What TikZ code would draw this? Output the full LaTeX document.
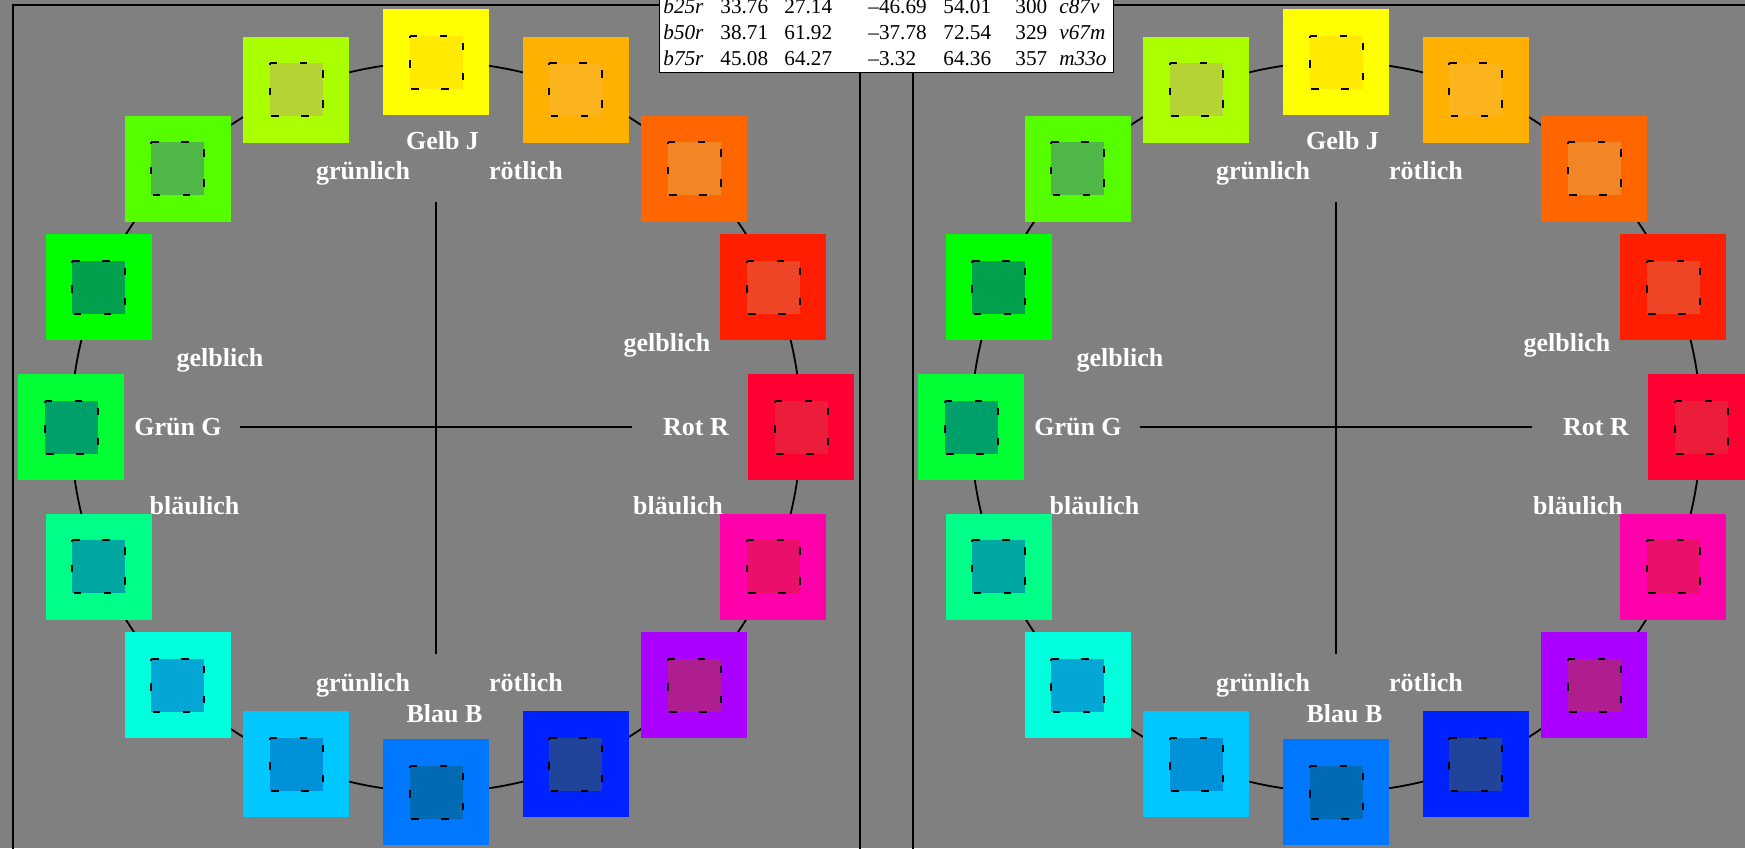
\documentclass[tikz,border=0pt]{standalone}
\usepackage{fontspec}
\setmainfont{Liberation Serif}
\definecolor{bg}{HTML}{808080}
\definecolor{o0}{HTML}{FFFF00}\definecolor{i0}{HTML}{FFEA00}
\definecolor{o1}{HTML}{FFB000}\definecolor{i1}{HTML}{FBB41E}
\definecolor{o2}{HTML}{FF6600}\definecolor{i2}{HTML}{F28627}
\definecolor{o3}{HTML}{FF1E00}\definecolor{i3}{HTML}{EE4526}
\definecolor{o4}{HTML}{FF0033}\definecolor{i4}{HTML}{EC1C3B}
\definecolor{o5}{HTML}{FF00AA}\definecolor{i5}{HTML}{EA0F6B}
\definecolor{o6}{HTML}{AA00FF}\definecolor{i6}{HTML}{AE1E8F}
\definecolor{o7}{HTML}{0022FF}\definecolor{i7}{HTML}{20449A}
\definecolor{o8}{HTML}{0077FF}\definecolor{i8}{HTML}{006AB4}
\definecolor{o9}{HTML}{00C8FF}\definecolor{i9}{HTML}{0092D8}
\definecolor{o10}{HTML}{00FFDD}\definecolor{i10}{HTML}{04A6D5}
\definecolor{o11}{HTML}{00FF88}\definecolor{i11}{HTML}{00A6A0}
\definecolor{o12}{HTML}{00FF33}\definecolor{i12}{HTML}{00A06B}
\definecolor{o13}{HTML}{00FF00}\definecolor{i13}{HTML}{00A04E}
\definecolor{o14}{HTML}{55FF00}\definecolor{i14}{HTML}{4FB748}
\definecolor{o15}{HTML}{AAFF00}\definecolor{i15}{HTML}{B5D334}
\begin{document}
\begin{tikzpicture}[x=0.5pt,y=-0.5pt,
  lab/.style={text=white,font=\fontsize{13}{15}\selectfont\bfseries,inner sep=0pt,anchor=base},
  outsq/.style={minimum size=53pt,inner sep=0pt,outer sep=0pt,draw=none},
  insq/.style={minimum size=26.5pt,inner sep=0pt,outer sep=0pt,draw=none},
  dashbox/.style={draw=black,line width=1pt,dash pattern=on 3.75pt off 11.25pt},
  axis/.style={line width=0.9pt},
  tab/.style={font=\fontsize{10.6}{12}\selectfont,inner sep=0pt,anchor=base west},
  tabi/.style={font=\fontsize{10.6}{12}\selectfont\itshape,inner sep=0pt,anchor=base west}]
\useasboundingbox (0,0) rectangle (1745,848);
\clip (0,0) rectangle (1745,848);
\fill[bg] (0,0) rectangle (1745,848);
% panel frames
\draw[axis] (13,5) rectangle (860,900);
\draw[axis] (913,5) rectangle (1800,900);
\foreach \ox/\p in {0/L,900/R}{
  \coordinate (\p c) at (436+\ox,427);
  \draw[axis] (\p c) circle[radius=365];
  \coordinate (\p top) at (436+\ox,202);
  \coordinate (\p bot) at (436+\ox,654);
  \coordinate (\p lft) at (240+\ox,427);
  \coordinate (\p rgt) at (632+\ox,427);
  \draw[axis] (\p top) -- (\p bot);
  \draw[axis] (\p lft) -- (\p rgt);
  \foreach \k in {0,...,15}{
    \pgfmathsetmacro{\ang}{-90+22.5*\k}
    \node[outsq,fill=o\k] (\p o\k) at ({436+\ox+365*cos(\ang)},{427+365*sin(\ang)}) {};
    \node[insq,fill=i\k] (\p i\k) at (\p o\k.center) {};
    \draw[dashbox] (\p i\k.north west) -- (\p i\k.north east) -- (\p i\k.south east) -- (\p i\k.south west) -- cycle;
  }
  \node[lab] (\p gelb) at (442.5+\ox,149.3) {Gelb J};
  \node[lab] (\p gr1) at (363+\ox,179) {grünlich};
  \node[lab] (\p ro1) at (526+\ox,179) {rötlich};
  \node[lab] (\p ge1) at (220+\ox,366) {gelblich};
  \node[lab] (\p ge2) at (667+\ox,351) {gelblich};
  \node[lab] (\p gruen) at (178+\ox,435) {Grün G};
  \node[lab] (\p rot) at (696+\ox,435) {Rot R};
  \node[lab] (\p bl1) at (194.5+\ox,514) {bläulich};
  \node[lab] (\p bl2) at (678+\ox,514) {bläulich};
  \node[lab] (\p gr2) at (363+\ox,691) {grünlich};
  \node[lab] (\p ro2) at (526+\ox,691) {rötlich};
  \node[lab] (\p blau) at (444.5+\ox,722.7) {Blau B};
}
% table
\draw[fill=white,line width=0.5pt] (659,-60) rectangle (1113,72.7);
\foreach \r/\y/\a/\b/\c/\d/\e/\f/\g in {
  1/13.3/b25r/33.76/27.14/–46.69/54.01/300/c87v,
  2/39.5/b50r/38.71/61.92/–37.78/72.54/329/v67m,
  3/65.7/b75r/45.08/64.27/–3.32/64.36/357/m33o}{
  \node[tabi] (t\r a) at (663,\y) {\a};
  \node[tab] (t\r b) at (720,\y) {\b};
  \node[tab] (t\r c) at (784,\y) {\c};
  \node[tab] (t\r d) at (868,\y) {\d};
  \node[tab] (t\r e) at (943,\y) {\e};
  \node[tab] (t\r f) at (1015,\y) {\f};
  \node[tabi] (t\r g) at (1059,\y) {\g};
}
\end{tikzpicture}
\end{document}
